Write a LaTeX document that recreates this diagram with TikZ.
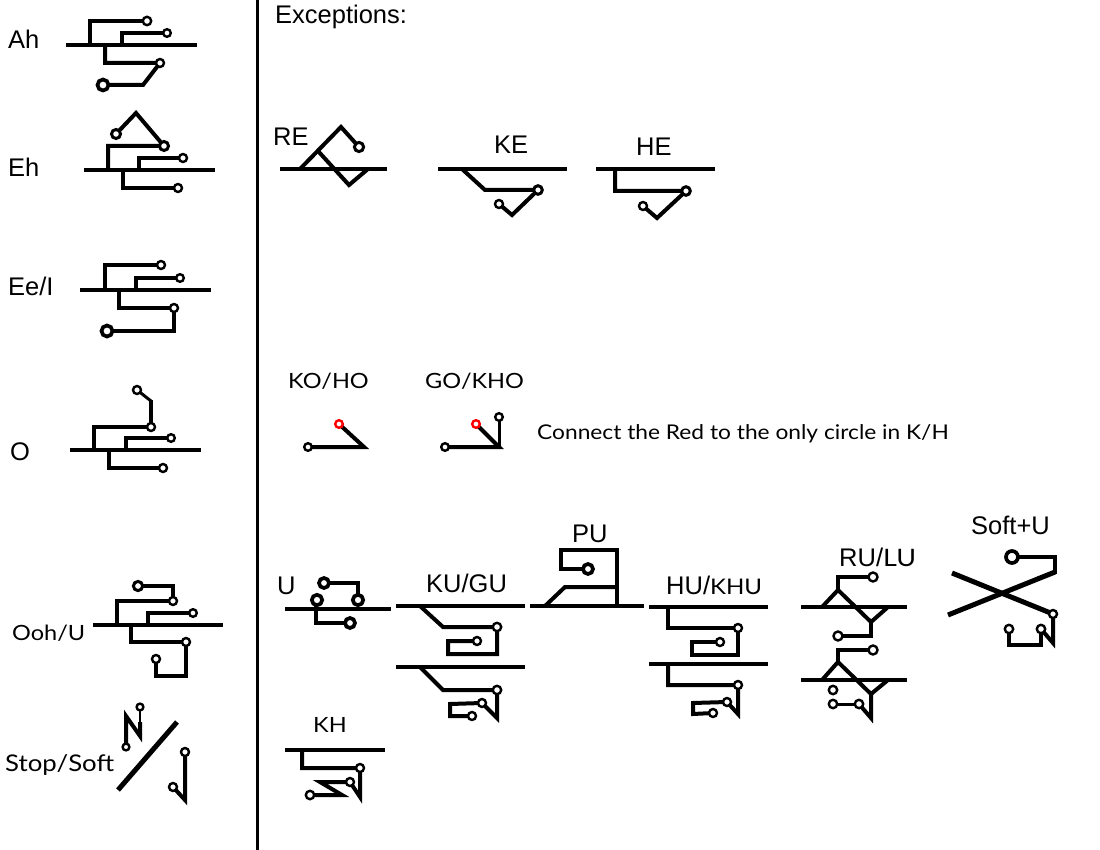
\documentclass[tikz,border=0pt]{standalone}
\usepackage{fontspec}
\setmainfont{Liberation Sans}
\newfontfamily\gf[FakeStretch=1.12]{Lato}
\begin{document}
\begin{tikzpicture}[x=1pt,y=-1pt,
  tr/.style={line width=4pt},
  ml/.style={line width=4.5pt},
  sc/.style={draw,line width=2.4pt,fill=white},
  mc/.style={draw,line width=3pt,fill=white},
  bc/.style={draw,line width=3.7pt,fill=white},
  rc/.style={draw=red,line width=2.4pt,fill=white},
  hv/.style={anchor=base west,inner sep=0pt,font=\fontsize{25.5}{30}\selectfont},
  gt/.style={anchor=base west,inner sep=0pt,font=\gf\fontsize{21}{25}\selectfont}]
\useasboundingbox[fill=white] (0,0) rectangle (1100,850);
% divider
\draw[line width=3pt] (257,0) -- (257,850);
% ---------- labels ----------
\node[hv] (lAh) at (8,49) {Ah};
\node[hv] (lEh) at (8,177) {Eh};
\node[hv] (lEe) at (8,296) {Ee/I};
\node[hv] (lO) at (10,460) {O};
\node[gt] (lOoh) at (12,640) {Ooh/U};
\node[gt,font=\gf\fontsize{23}{27}\selectfont] (lStop) at (5,771) {Stop/Soft};
\node[hv] (lExc) at (275,24) {Exceptions:};
\node[hv] (lRE) at (273,146) {RE};
\node[hv] (lKE) at (494,154) {KE};
\node[hv] (lHE) at (636,156) {HE};
\node[gt] (lKO) at (288,388) {KO/HO};
\node[gt] (lGO) at (425,388) {GO/KHO};
\node[gt,font=\gf\fontsize{20.3}{24}\selectfont] (lCon) at (537,439) {Connect the Red to the only circle in K/H};
\node[hv] (lU) at (277,594) {U};
\node[hv] (lKU) at (426,592) {KU/GU};
\node[hv] (lPU) at (572,542) {PU};
\node[hv] (lHU) at (666,594) {HU/{\gf\fontsize{21.5}{25}\selectfont KHU}};
\node[hv] (lRU) at (839,566) {RU/{\gf\fontsize{24}{28}\selectfont LU}};
\node[hv] (lSU) at (971,534) {Soft+U};
\node[gt] (lKH) at (313,732) {KH};
% ---------- Ah ----------
\draw[ml] (66,45) -- (197,45);
\draw[tr] (90,45) -- (90,21) -- (147,21);
\draw[tr] (122,45) -- (122,33) -- (167,33);
\draw[tr] (105,45) -- (105,63) -- (160,63) -- (143,85) -- (103,85);
\draw[sc] (147,21) circle (4.2);
\draw[sc] (167,33) circle (3.8);
\draw[sc] (160,63) circle (4);
\draw[bc] (103,85) circle (5.5);
% ---------- Eh ----------
\draw[ml] (84,170) -- (215,170);
\draw[tr] (108,170) -- (108,146) -- (164,146) -- (136,113) -- (116,134);
\draw[tr] (139,170) -- (139,158) -- (183,158);
\draw[tr] (123,170) -- (123,188) -- (178,188);
\draw[mc] (164,146) circle (4.5);
\draw[mc] (116,134) circle (4.5);
\draw[sc] (183,158) circle (4);
\draw[sc] (178,188) circle (4);
% ---------- Ee/I ----------
\draw[ml] (80,290) -- (211,290);
\draw[tr] (105,290) -- (105,265) -- (161,265);
\draw[tr] (136,290) -- (136,278) -- (180,278);
\draw[tr] (119,290) -- (119,308) -- (174,308) -- (174,331) -- (107,331);
\draw[sc] (161,265) circle (4);
\draw[sc] (180,278) circle (3.8);
\draw[sc] (174,308) circle (4);
\draw[bc] (107,331) circle (5.5);
% ---------- O ----------
\draw[ml] (70,450) -- (201,450);
\draw[tr] (94,450) -- (94,427) -- (151,427) -- (151,400);
\draw[line width=3pt] (151,401) -- (137,390);
\draw[tr] (126,450) -- (126,438) -- (171,438);
\draw[tr] (109,450) -- (109,468) -- (163,468);
\draw[sc] (151,427) circle (4);
\draw[sc] (137,390) circle (4);
\draw[sc] (171,438) circle (3.8);
\draw[sc] (163,468) circle (4);
% ---------- Ooh/U ----------
\draw[ml] (93,625) -- (223,625);
\draw[tr] (117,625) -- (117,601) -- (173,601) -- (173,586) -- (138,586);
\draw[tr] (148,625) -- (148,613) -- (193,613);
\draw[tr] (131,625) -- (131,642) -- (186,642) -- (186,676) -- (156,676) -- (156,659);
\draw[sc] (173,601) circle (4);
\draw[mc] (138,586) circle (4.6);
\draw[sc] (193,613) circle (3.8);
\draw[sc] (186,642) circle (4);
\draw[sc] (156,659) circle (4);
% ---------- Stop/Soft ----------
\draw[tr] (126,746) -- (126,716) -- (140,736) -- (140,722);
\draw[line width=2.4pt] (140,723) -- (140,707);
\draw[sc] (140,707) circle (3.4);
\draw[sc] (126,747) circle (3.4);
\draw[line width=5pt] (118,790) -- (177,722);
\draw[tr] (185,752) -- (185,800) -- (173,787);
\draw[sc] (185,752) circle (4);
\draw[sc] (173,787) circle (4);
% ---------- RE ----------
\draw[ml] (280,169) -- (387,169);
\draw[tr] (300,169) -- (341,127) -- (359,147);
\draw[tr] (318,151) -- (349,185) -- (368,169);
\draw[mc] (359,147) circle (4.6);
% ---------- KE ----------
\draw[ml] (438,169) -- (567,169);
\draw[tr] (462,169) -- (485,190) -- (538,190) -- (512,215) -- (499,204);
\draw[mc] (538,190) circle (4.3);
\draw[sc] (499,204) circle (4);
% ---------- HE ----------
\draw[ml] (596,169) -- (715,169);
\draw[tr] (615,169) -- (615,191) -- (686,191) -- (657,218) -- (643,206);
\draw[mc] (686,191) circle (4.3);
\draw[sc] (643,206) circle (4);
% ---------- KO/HO ----------
\draw[tr] (308,447) -- (364,447) -- (339,424);
\draw[sc] (308,447) circle (3.8);
\draw[rc] (339,424) circle (3.8);
% ---------- GO/KHO ----------
\draw[tr] (445,447) -- (499,447) -- (476,424);
\draw[line width=3pt] (499,448) -- (499,417);
\draw[sc] (445,447) circle (3.8);
\draw[rc] (476,424) circle (3.8);
\draw[sc] (499,417) circle (3.8);
% ---------- U ----------
\draw[ml] (285,609) -- (391,609);
\draw[tr] (358,599) -- (358,583) -- (324,583);
\draw[tr] (316,599) -- (316,623) -- (350,623);
\draw[bc] (317,600) circle (5.2);
\draw[bc] (358,600) circle (5.2);
\draw[bc] (324,583) circle (5);
\draw[bc] (350,623) circle (5);
% ---------- KU/GU ----------
\draw[ml] (396,606) -- (525,606);
\draw[tr] (420,606) -- (443,627) -- (497,627) -- (497,654) -- (448,654) -- (448,641) -- (477,641);
\draw[sc] (497,627) circle (4.2);
\draw[sc] (477,641) circle (4);
\draw[ml] (396,667) -- (525,667);
\draw[tr] (420,667) -- (443,690) -- (497,690) -- (497,718) -- (482,703) -- (450,704) -- (450,716) -- (472,716);
\draw[sc] (497,690) circle (4.2);
\draw[sc] (482,703) circle (4);
\draw[sc] (472,716) circle (4);
% ---------- PU ----------
\draw[ml] (530,606) -- (644,606);
\draw[tr] (545,606) -- (565,587) -- (617,587);
\draw[tr] (617,606) -- (617,550) -- (561,550) -- (561,569) -- (588,569);
\draw[bc] (588,569) circle (5);
% ---------- HU/KHU ----------
\draw[ml] (649,607) -- (768,607);
\draw[tr] (668,607) -- (668,628) -- (738,628) -- (738,655) -- (692,655) -- (692,642) -- (720,642);
\draw[sc] (738,628) circle (4);
\draw[sc] (720,642) circle (4);
\draw[ml] (649,664) -- (768,664);
\draw[tr] (668,664) -- (668,685) -- (738,685) -- (738,714) -- (727,702) -- (693,703) -- (693,714) -- (713,713);
\draw[sc] (738,685) circle (4);
\draw[sc] (727,702) circle (4);
\draw[sc] (713,713) circle (4);
% ---------- RU/LU ----------
\draw[ml] (801,607) -- (907,607);
\draw[tr] (822,607) -- (838,590) -- (871,622) -- (888,607);
\draw[tr] (838,590) -- (838,577) -- (873,577);
\draw[tr] (871,621) -- (871,636) -- (838,636);
\draw[sc] (873,577) circle (4.5);
\draw[sc] (838,636) circle (4.5);
\draw[ml] (801,680) -- (907,680);
\draw[tr] (822,680) -- (838,662) -- (871,694) -- (888,680);
\draw[tr] (838,662) -- (838,650) -- (873,650);
\draw[tr] (871,694) -- (871,718) -- (859,704);
\draw[line width=3pt] (859,704) -- (833,704);
\draw[sc] (873,650) circle (4.5);
\draw[sc] (859,704) circle (4.2);
\draw[sc] (833,704) circle (4.2);
\draw[sc] (833,690) circle (4.2);
% ---------- Soft+U ----------
\draw[tr] (1012,557) -- (1055,557) -- (1055,574);
\draw[line width=5pt] (1055,572) -- (948,615);
\draw[line width=5pt] (952,573) -- (1053,614);
\draw[tr] (1053,614) -- (1053,643) -- (1041,629);
\draw[tr] (1041,629) -- (1041,645) -- (1009,645) -- (1009,629);
\draw[bc] (1012,557) circle (6);
\draw[sc] (1053,614) circle (4);
\draw[sc] (1041,629) circle (4.2);
\draw[sc] (1009,629) circle (4.2);
% ---------- KH ----------
\draw[ml] (285,750) -- (385,750);
\draw[tr] (302,750) -- (302,768) -- (360,768) -- (360,797) -- (350,782);
\draw[tr] (350,782) -- (320,782) -- (342,795) -- (310,795);
\draw[sc] (360,768) circle (4);
\draw[sc] (350,782) circle (4);
\draw[sc] (310,795) circle (4.2);
\end{tikzpicture}
\end{document}
